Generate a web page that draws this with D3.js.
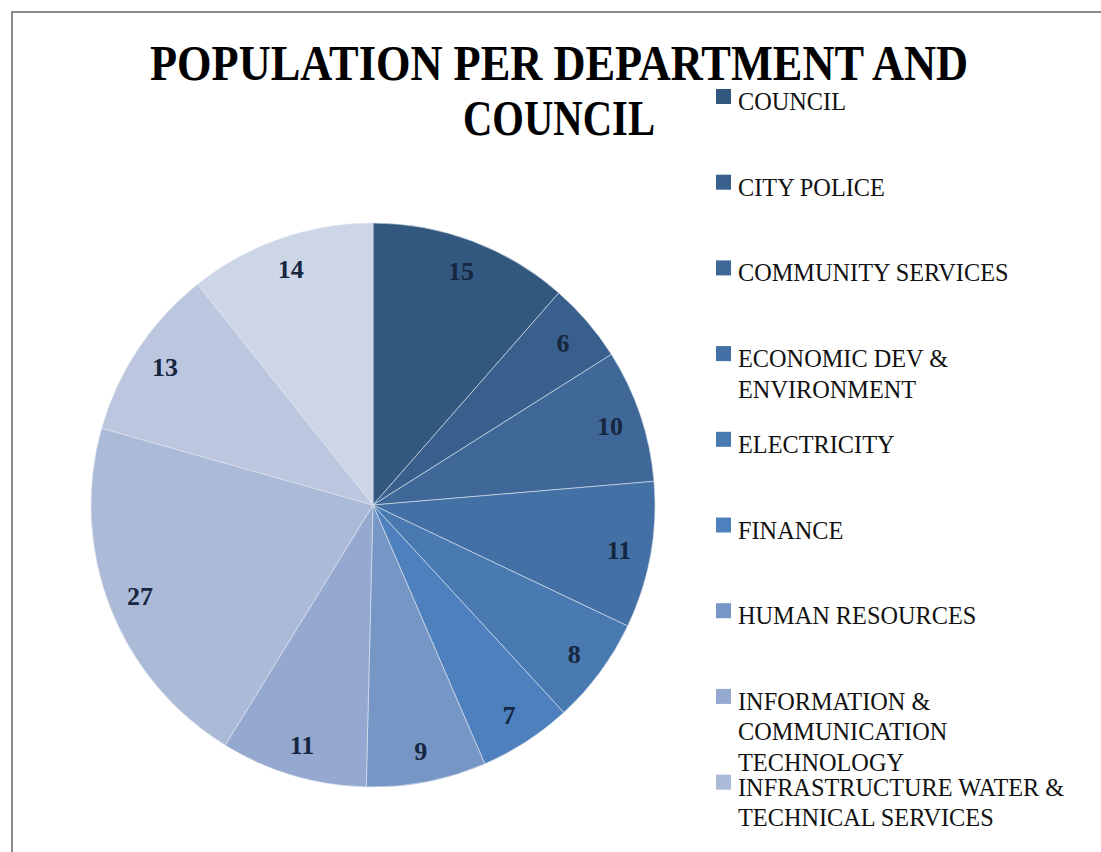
<!DOCTYPE html>
<html>
<head>
<meta charset="utf-8">
<script src="https://cdn.jsdelivr.net/npm/d3@7"></script>
<style>
  body { margin: 0; background: #fff; }
</style>
</head>
<body>
<div class="canvas"></div>
<script>
// slices clockwise from 12 o'clock
const values = [15, 6, 10, 11, 8, 7, 9, 11, 27, 13, 14];
const colors = ["#33587f", "#395f8c", "#3f6898", "#4371a5", "#4879b1", "#4d80bc",
                "#7696c6", "#95a9d0", "#abbad7", "#bcc7df", "#cdd6e7"];
// only the first nine legend entries fit in the picture
const legendLabels = [
  ["COUNCIL"],
  ["CITY POLICE"],
  ["COMMUNITY SERVICES"],
  ["ECONOMIC DEV &", "ENVIRONMENT"],
  ["ELECTRICITY"],
  ["FINANCE"],
  ["HUMAN RESOURCES"],
  ["INFORMATION &", "COMMUNICATION", "TECHNOLOGY"],
  ["INFRASTRUCTURE WATER &", "TECHNICAL SERVICES"]
];
const titleLines = ["POPULATION PER DEPARTMENT AND", "COUNCIL"];

const width = 1101;
const height = 852;
const cx = 373, cy = 505, radius = 282;

const svg = d3.select(".canvas").append("svg")
  .attr("width", width)
  .attr("height", height);

// chart frame (runs off the right and bottom edges)
svg.append("rect")
  .attr("x", 12).attr("y", 12)
  .attr("width", width + 20).attr("height", height + 20)
  .attr("fill", "#fff")
  .attr("stroke", "#8c8c8c")
  .attr("stroke-width", 2);

// title
svg.append("g")
  .selectAll("text")
  .data(titleLines)
  .join("text")
    .attr("x", 559)
    .attr("y", (d, i) => 80 + i * 55)
    .attr("text-anchor", "middle")
    .attr("font-family", "Liberation Serif, serif")
    .attr("font-weight", "bold")
    .attr("font-size", 51)
    .attr("textLength", (d, i) => i === 0 ? 818 : 192)
    .attr("lengthAdjust", "spacingAndGlyphs")
    .attr("fill", "#000")
    .text(d => d);

// pie
const pie = d3.pie().sort(null).value(d => d);
const arc = d3.arc().innerRadius(0).outerRadius(radius);
const labelArc = d3.arc().innerRadius(250).outerRadius(250);

const g = svg.append("g").attr("transform", `translate(${cx},${cy})`);

const arcs = pie(values);

g.selectAll("path")
  .data(arcs)
  .join("path")
    .attr("d", arc)
    .attr("fill", (d, i) => colors[i])
    .attr("stroke", "#dfe6f0")
    .attr("stroke-width", 0.6);

g.selectAll("text")
  .data(arcs)
  .join("text")
    .attr("transform", d => `translate(${labelArc.centroid(d)})`)
    .attr("dy", "0.35em")
    .attr("text-anchor", "middle")
    .attr("font-family", "Liberation Serif, serif")
    .attr("font-weight", "bold")
    .attr("font-size", 26)
    .attr("fill", "#16263f")
    .text(d => d.data);

// legend
const legend = svg.append("g");
const item = legend.selectAll("g")
  .data(legendLabels)
  .join("g")
    .attr("transform", (d, i) => `translate(716, ${102 + i * 85.7})`);

item.append("rect")
  .attr("x", 0).attr("y", -13)
  .attr("width", 15).attr("height", 15)
  .attr("fill", (d, i) => colors[i]);

item.append("text")
  .attr("transform", "translate(22, 8) scale(0.935, 1)")
  .attr("font-family", "Liberation Serif, serif")
  .attr("font-size", 26)
  .attr("fill", "#111")
  .selectAll("tspan")
  .data(d => d)
  .join("tspan")
    .attr("x", 0)
    .attr("dy", (d, i) => i === 0 ? 0 : 30.5)
    .text(d => d);
</script>
</body>
</html>
